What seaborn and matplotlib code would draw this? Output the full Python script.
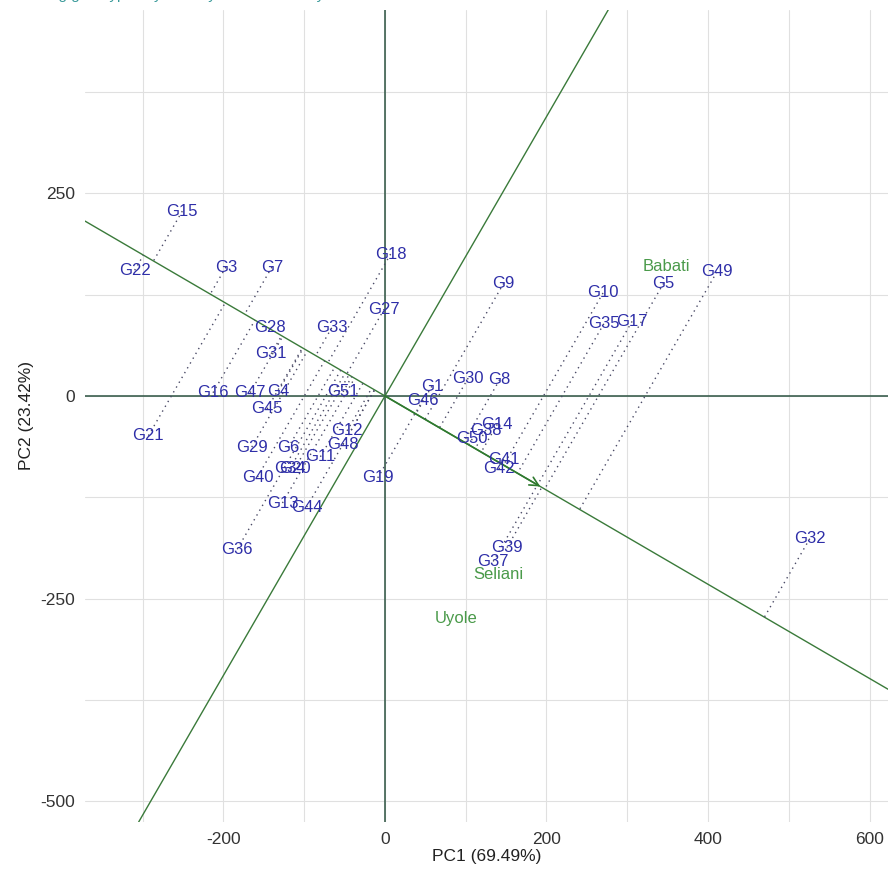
import numpy as np
import pandas as pd
import seaborn as sns
import matplotlib.pyplot as plt
from matplotlib.ticker import MultipleLocator

sns.set_theme(style="whitegrid")
plt.rcParams['font.family'] = ['Liberation Sans', 'DejaVu Sans']
plt.rcParams['axes.unicode_minus'] = False

# genotype scores (PC1, PC2)
genotypes = ["G15", "G22", "G3", "G7", "G18", "G27", "G28", "G33", "G31",
             "G16", "G47", "G4", "G51", "G45", "G21", "G29", "G6", "G12",
             "G48", "G11", "G34", "G20", "G40", "G19", "G13", "G44", "G36",
             "G9", "G10", "G5", "G49", "G35", "G17", "G1", "G30", "G8",
             "G46", "G14", "G38", "G50", "G41", "G42", "G39", "G37", "G32"]
pc1 = [-251, -310, -197, -140, 7, -1, -142, -66, -141,
       -213, -167, -132, -52, -146, -293, -165, -120, -47,
       -52, -80, -118, -112, -158, -9, -127, -97, -183,
       147, 270, 345, 411, 271, 306, 58, 103, 142,
       47, 139, 125, 108, 147, 141, 151, 134, 526]
pc2 = [228, 155, 159, 159, 175, 107, 84, 84, 52,
       4, 4, 6, 5, -16, -49, -63, -64, -43,
       -60, -75, -90, -90, -100, -101, -132, -137, -189,
       139, 127, 139, 153, 89, 92, 12, 22, 20,
       -5, -35, -42, -53, -78, -90, -187, -204, -176]

environments = ["Babati", "Seliani", "Uyole"]
env_pc1 = [349, 140, 88]
env_pc2 = [160, -220, -275]

xlabel = "PC1 (69.49%)"
ylabel = "PC2 (23.42%)"
title = "Ranking genotypes by mean yield and stability"

# average environment axis
mx, my = np.mean(env_pc1), np.mean(env_pc2)
u = np.array([mx, my]) / np.hypot(mx, my)

gen = pd.DataFrame({"gen": genotypes, "x": pc1, "y": pc2})
d = gen["x"] * u[0] + gen["y"] * u[1]
proj = pd.DataFrame({"gen": genotypes, "x": d * u[0], "y": d * u[1]})
seg = pd.concat([gen.assign(o=0), proj.assign(o=1)]).sort_values(["gen", "o"])

fig = plt.figure(figsize=(8.88, 8.81), dpi=100)
ax = fig.add_axes([85 / 888, 59 / 881, 803 / 888, 812 / 881])
ax.set_xlim(-371.5, 622.9)
ax.set_ylim(-525.4, 476)

ax.xaxis.set_major_locator(MultipleLocator(200))
ax.xaxis.set_minor_locator(MultipleLocator(100))
ax.yaxis.set_major_locator(MultipleLocator(250))
ax.yaxis.set_minor_locator(MultipleLocator(125))
ax.grid(True, which="both", color="#e0e0e0", lw=0.8)
for s in ax.spines.values():
    s.set_visible(False)
ax.tick_params(which="major", length=4, color="#d0d0d0", pad=3,
               labelsize=12.5, labelcolor="#333333")
ax.tick_params(which="minor", length=0)

ax.axhline(0, color="#2b5240", lw=1.1, zorder=2)
ax.axvline(0, color="#2b5240", lw=1.1, zorder=2)
ax.axline((0, 0), slope=my / mx, color="#3a7a3a", lw=1.0, zorder=2)
ax.axline((0, 0), slope=-mx / my, color="#3a7a3a", lw=1.0, zorder=2)

sns.lineplot(data=seg, x="x", y="y", units="gen", estimator=None, sort=False,
             color="#4a4a66", lw=1.0, linestyle=(0, (1, 3)), ax=ax, zorder=3)

ax.annotate("", xy=(mx, my), xytext=(0, 0),
            arrowprops=dict(arrowstyle="->", color="#2f7a2f", lw=1.2,
                            mutation_scale=16, shrinkA=0, shrinkB=0))

for g, x, y in zip(genotypes, pc1, pc2):
    ax.text(x, y, g, ha="center", va="center", fontsize=12, color="#2e2ea8", zorder=4)
for e, x, y in zip(environments, env_pc1, env_pc2):
    ax.text(x, y, e, ha="center", va="center", fontsize=12, color="#4a9a4a", zorder=4)

ax.set_xlabel(xlabel, fontsize=12.5, color="#222222", labelpad=2)
ax.set_ylabel(ylabel, fontsize=12.5, color="#222222", labelpad=5)

# title sits mostly above the cropped top edge
fig.text(0.012, 1 + 0.5 / 881, title, fontsize=11, color="#3a9a9a",
         ha="left", va="baseline")

fig.savefig("out.png", dpi=100)
